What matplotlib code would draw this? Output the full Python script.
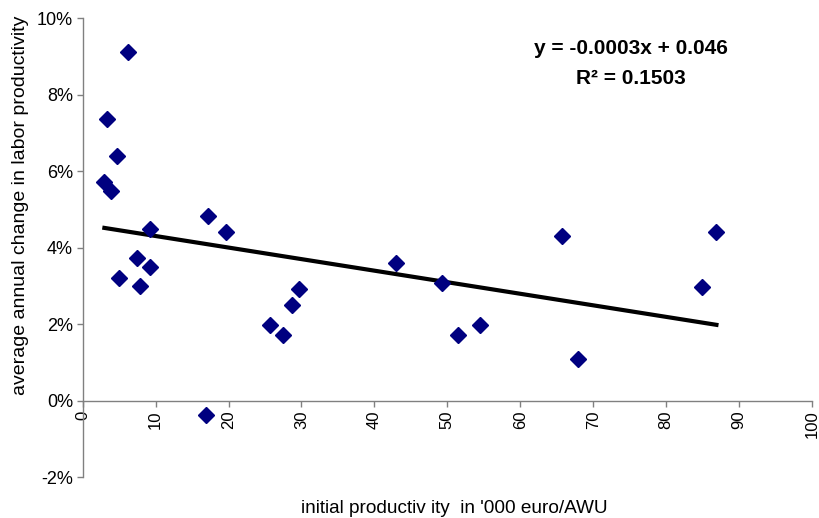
import matplotlib.pyplot as plt
import matplotlib as mpl
import numpy as np
from matplotlib.ticker import PercentFormatter

# initial productivity ('000 euro/AWU) and avg annual change in labour productivity
productivity = [6.26, 3.29, 4.70, 2.97, 3.84, 9.28, 17.2, 19.7, 7.40, 9.28,
                4.93, 7.90, 29.6, 28.75, 25.7, 27.4, 16.9, 43.0, 49.2, 51.5,
                54.5, 65.75, 67.9, 84.95, 86.9]
growth = [0.0911, 0.0738, 0.0639, 0.0572, 0.0549, 0.0450, 0.0482, 0.0441, 0.0372, 0.0351,
          0.0320, 0.0299, 0.0293, 0.0251, 0.0199, 0.0173, -0.0037, 0.0361, 0.0309, 0.0173,
          0.0199, 0.0430, 0.0110, 0.0298, 0.0440]

x_ticks = [0, 10, 20, 30, 40, 50, 60, 70, 80, 90, 100]
y_ticks = [-0.02, 0.0, 0.02, 0.04, 0.06, 0.08, 0.10]

eq_text = "y = -0.0003x + 0.046"
r2_text = "R\u00b2 = 0.1503"

mpl.rcParams["font.family"] = ["Liberation Sans", "DejaVu Sans"]
mpl.rcParams["axes.unicode_minus"] = False

fig = plt.figure(figsize=(8.19, 5.18), dpi=100)
ax = fig.add_axes([0.101, 0.0786, 0.8904, 0.8861])

x = np.asarray(productivity)
y = np.asarray(growth)

ax.plot(x, y, linestyle="none", marker="D", markersize=8,
        color="#000080", markeredgecolor="#000080", zorder=3)

# linear trendline
slope, intercept = np.polyfit(x, y, 1)
xs = np.array([x.min(), x.max()])
ax.plot(xs, slope * xs + intercept, color="black", linewidth=3, zorder=2)

ax.set_xlim(0, 100)
ax.set_ylim(-0.02, 0.10)
ax.set_xticks(x_ticks)
ax.set_yticks(y_ticks)
ax.yaxis.set_major_formatter(PercentFormatter(xmax=1, decimals=0))

for side in ["top", "right"]:
    ax.spines[side].set_visible(False)
ax.spines["bottom"].set_position(("data", 0))
for side in ["left", "bottom"]:
    ax.spines[side].set_color("#808080")
    ax.spines[side].set_linewidth(1.0)

ax.tick_params(axis="both", direction="out", length=4.5, width=1.0,
               color="#808080", labelcolor="black", pad=2.5)
ax.tick_params(axis="y", labelsize=13)
ax.tick_params(axis="x", labelsize=12, labelrotation=90)

ax.set_ylabel("average annual change in labor productivity", fontsize=14)
ax.yaxis.label.set_va("center")
ax.yaxis.set_label_coords(-0.085, 0.593)
ax.set_xlabel("initial productiv ity  in '000 euro/AWU", fontsize=13.7)
ax.xaxis.set_label_coords(0.51, -0.05)

ax.text(0.752, 0.935, eq_text, transform=ax.transAxes, ha="center", va="center",
        fontsize=15, fontweight="bold")
ax.text(0.752, 0.868, r2_text, transform=ax.transAxes, ha="center", va="center",
        fontsize=15, fontweight="bold")

fig.savefig("out.png", dpi=100)
